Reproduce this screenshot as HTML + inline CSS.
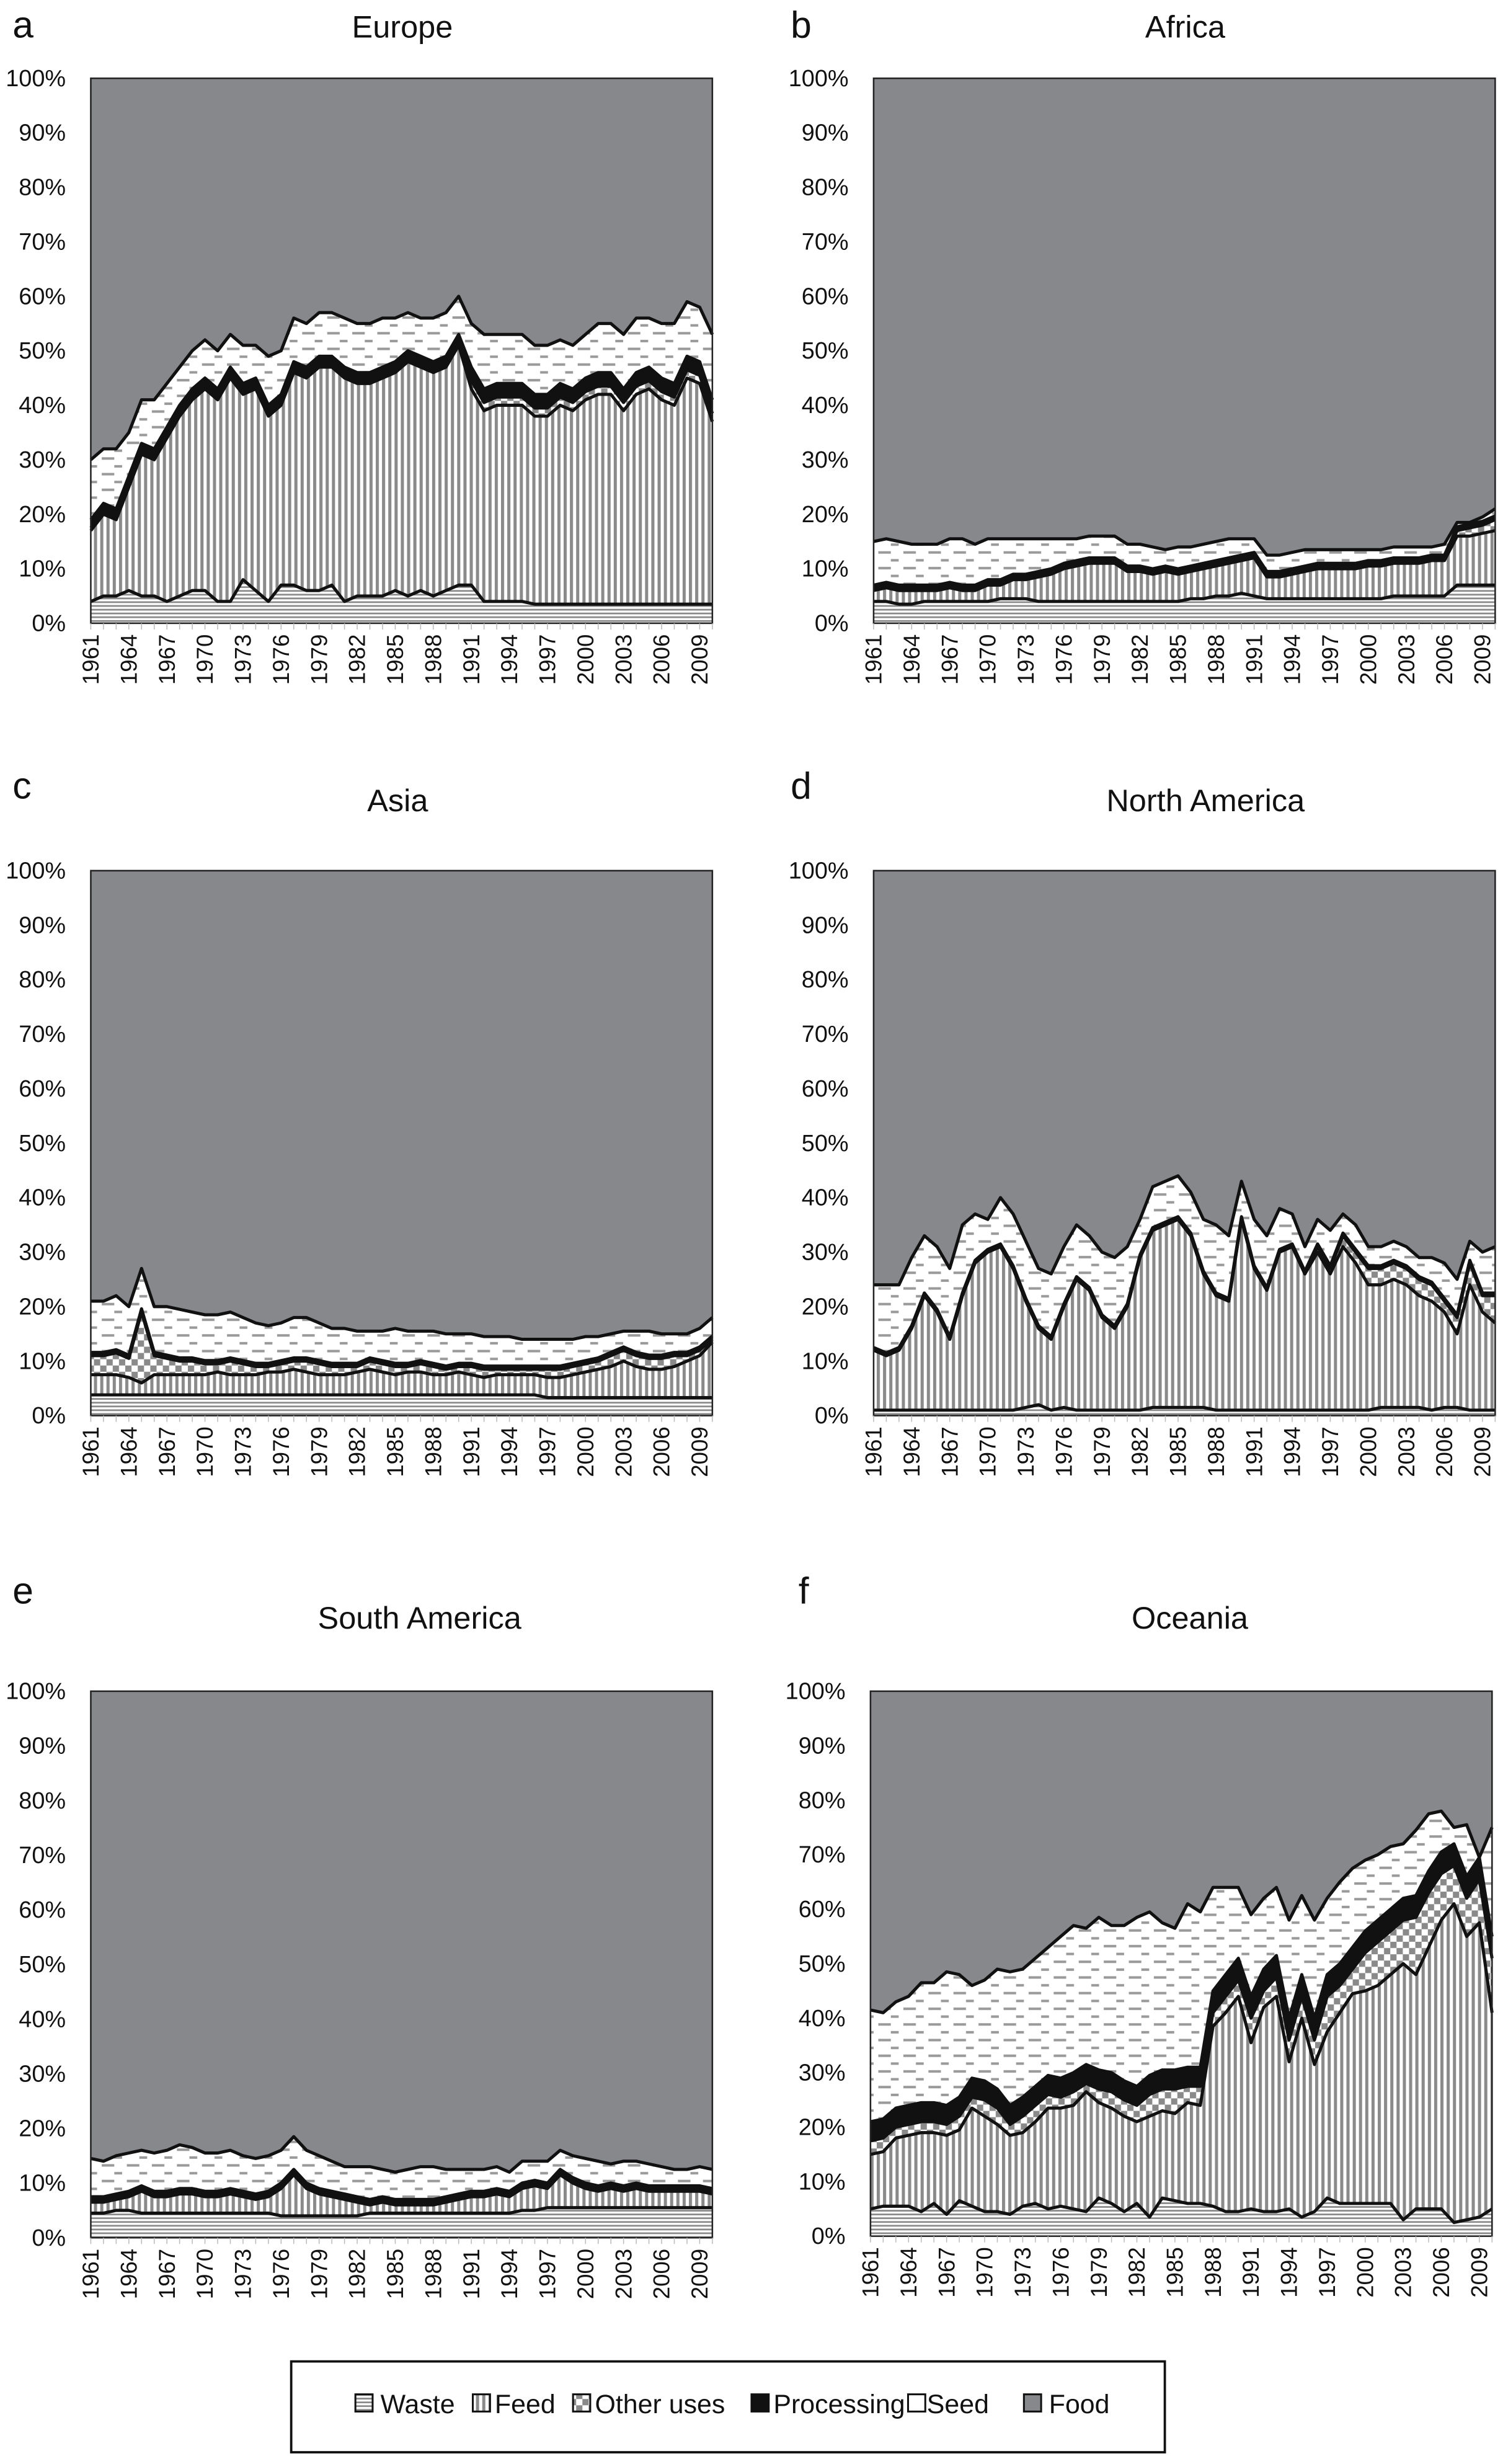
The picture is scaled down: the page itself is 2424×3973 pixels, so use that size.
<!DOCTYPE html>
<html><head><meta charset="utf-8"><style>
html,body{margin:0;padding:0;background:#fff;}
svg{display:block;}
text{font-family:"Liberation Sans",sans-serif;fill:#111;}
</style></head><body>
<svg id="fig" width="2424" height="3973" viewBox="0 0 960 1573.5" preserveAspectRatio="none" xmlns="http://www.w3.org/2000/svg">
<defs>
<pattern id="pWaste" patternUnits="userSpaceOnUse" width="6" height="2.4"><rect width="6" height="2.4" fill="#fff"/><rect y="0" width="6" height="1.1" fill="#8a8a8a"/></pattern>
<pattern id="pFeed" patternUnits="userSpaceOnUse" width="4" height="6"><rect width="4" height="6" fill="#fff"/><rect x="0" width="2" height="6" fill="#8a8a8a"/></pattern>
<pattern id="pOther" patternUnits="userSpaceOnUse" width="8" height="8"><rect width="8" height="8" fill="#fff"/><rect width="4" height="4" fill="#8a8a8a"/><rect x="4" y="4" width="4" height="4" fill="#8a8a8a"/></pattern>
<pattern id="pSeed" patternUnits="userSpaceOnUse" width="16" height="10"><rect width="16" height="10" fill="#fff"/><rect x="1" y="2" width="8" height="1.6" fill="#9a9a9a"/><rect x="9" y="7" width="5" height="1.6" fill="#9a9a9a"/></pattern>
</defs>
</svg>
<script>
const years = [];
for (let y = 1961; y <= 2010; y++) years.push(y);
const yTicks = [0,10,20,30,40,50,60,70,80,90,100];
const xTickYears = [1961,1964,1967,1970,1973,1976,1979,1982,1985,1988,1991,1994,1997,2000,2003,2006,2009];

// Europe
const eu_waste = [4,5,5,6,5,5,4,5,6,6,4,4,8,6,4,7,7,6,6,7,4,5,5,5,6,5,6,5,6,7,7,4,4,4,4,3.5,3.5,3.5,3.5,3.5,3.5,3.5,3.5,3.5,3.5,3.5,3.5,3.5,3.5,3.5];
const eu_feedCum = [17,20,19,25,31,30,34,38,41,43,41,45,42,43,38,40,46,45,47,47,45,44,44,45,46,48,47,46,47,51,43,39,40,40,40,38,38,40,39,41,42,42,39,42,43,41,40,45,44,37];
const eu_other = [0.5,0.5,0.5,0.5,0.5,0.5,0.5,0.5,0.5,0.5,0.5,0.5,0.5,0.5,0.5,0.5,0.5,0.5,0.5,0.5,0.5,0.5,0.5,0.5,0.5,0.5,0.5,0.5,0.5,0.5,1.5,1.5,1.5,1.5,1.5,1.5,1.5,1.5,1.5,1.5,1.5,1.5,1.5,1.5,1.5,1.5,1.5,1.5,1.5,1.5];
const eu_proc = [1.5,1.5,1.5,1.5,1.5,1.5,1.5,1.5,1.5,1.5,1.5,1.5,1.5,1.5,1.5,1.5,1.5,1.5,1.5,1.5,1.5,1.5,1.5,1.5,1.5,1.5,1.5,1.5,1.5,1.5,2.5,2.5,2.5,2.5,2.5,2.5,2.5,2.5,2.5,2.5,2.5,2.5,2.5,2.5,2.5,2.5,2.5,2.5,2.5,2.5];
const eu_seedCum = [30,32,32,35,41,41,44,47,50,52,50,53,51,51,49,50,56,55,57,57,56,55,55,56,56,57,56,56,57,60,55,53,53,53,53,51,51,52,51,53,55,55,53,56,56,55,55,59,58,53];

// Africa
const af_waste = [4,4,3.5,3.5,4,4,4,4,4,4,4.5,4.5,4.5,4,4,4,4,4,4,4,4,4,4,4,4,4.5,4.5,5,5,5.5,5,4.5,4.5,4.5,4.5,4.5,4.5,4.5,4.5,4.5,4.5,5,5,5,5,5,7,7,7,7];
const af_feedCum = [6,6.5,6,6,6,6,6.5,6,6,7,7,8,8,8.5,9,10,10.5,11,11,11,9.5,9.5,9,9.5,9,9.5,10,10.5,11,11.5,12,8.5,8.5,9,9.5,10,10,10,10,10.5,10.5,11,11,11,11.5,11.5,16,16,16.5,17];
const af_other = [0.3,0.3,0.3,0.3,0.3,0.3,0.3,0.3,0.3,0.3,0.3,0.3,0.3,0.3,0.3,0.3,0.3,0.3,0.3,0.3,0.3,0.3,0.3,0.3,0.3,0.3,0.3,0.3,0.3,0.3,0.3,0.3,0.3,0.3,0.3,0.3,0.3,0.3,0.3,0.3,0.3,0.3,0.3,0.3,0.3,0.3,1,1.5,1.5,2];
const af_proc = [0.7,0.7,0.7,0.7,0.7,0.7,0.7,0.7,0.7,0.7,0.7,0.7,0.7,0.7,0.7,0.7,0.7,0.7,0.7,0.7,0.7,0.7,0.7,0.7,0.7,0.7,0.7,0.7,0.7,0.7,0.7,0.7,0.7,0.7,0.7,0.7,0.7,0.7,0.7,0.7,0.7,0.7,0.7,0.7,0.7,0.7,0.7,0.7,0.7,0.7];
const af_seedCum = [15,15.5,15,14.5,14.5,14.5,15.5,15.5,14.5,15.5,15.5,15.5,15.5,15.5,15.5,15.5,15.5,16,16,16,14.5,14.5,14,13.5,14,14,14.5,15,15.5,15.5,15.5,12.5,12.5,13,13.5,13.5,13.5,13.5,13.5,13.5,13.5,14,14,14,14,14.5,18.5,18.5,19.5,21];

// Asia
const as_waste = [3.8,3.8,3.8,3.8,3.8,3.8,3.8,3.8,3.8,3.8,3.8,3.8,3.8,3.8,3.8,3.8,3.8,3.8,3.8,3.8,3.8,3.8,3.8,3.8,3.8,3.8,3.8,3.8,3.8,3.8,3.8,3.8,3.8,3.8,3.8,3.8,3.3,3.3,3.3,3.3,3.3,3.3,3.3,3.3,3.3,3.3,3.3,3.3,3.3,3.3];
const as_feedCum = [7.5,7.5,7.5,7,6,7.5,7.5,7.5,7.5,7.5,8,7.5,7.5,7.5,8,8,8.5,8,7.5,7.5,7.5,8,8.5,8,7.5,8,8,7.5,7.5,8,7.5,7,7.5,7.5,7.5,7.5,7,7,7.5,8,8.5,9,10,9,8.5,8.5,9,10,11,13.5];
const as_other = [3.5,3.5,4,3.5,13,3.5,3,2.5,2.5,2,1.5,2.5,2,1.5,1,1.5,1.5,2,2,1.5,1.5,1,1.5,1.5,1.5,1,1.5,1.5,1,1,1.5,1.5,1,1,1,1,1.5,1.5,1.5,1.5,1.5,2,2,2,2,2,2,1,1,0.5];
const as_proc = [0.6,0.6,0.6,0.6,0.6,0.6,0.6,0.6,0.6,0.6,0.6,0.6,0.6,0.6,0.6,0.6,0.6,0.6,0.6,0.6,0.6,0.6,0.6,0.6,0.6,0.6,0.6,0.6,0.6,0.6,0.6,0.6,0.6,0.6,0.6,0.6,0.6,0.6,0.6,0.6,0.6,0.6,0.6,0.6,0.6,0.6,0.6,0.6,0.6,0.6];
const as_seedCum = [21,21,22,20,27,20,20,19.5,19,18.5,18.5,19,18,17,16.5,17,18,18,17,16,16,15.5,15.5,15.5,16,15.5,15.5,15.5,15,15,15,14.5,14.5,14.5,14,14,14,14,14,14.5,14.5,15,15.5,15.5,15.5,15,15,15,16,18];

// North America
const na_waste = [1,1,1,1,1,1,1,1,1,1,1,1,1.5,2,1,1.5,1,1,1,1,1,1,1.5,1.5,1.5,1.5,1.5,1,1,1,1,1,1,1,1,1,1,1,1,1,1.5,1.5,1.5,1.5,1,1.5,1.5,1,1,1];
const na_feedCum = [12,11,12,16,22,19,14,22,28,30,31,27,21,16,14,20,25,23,18,16,20,29,34,35,36,33,26,22,21,36,27,23,30,31,26,30,26,31,28,24,24,25,24,22,21,19,15,24,19,17];
const na_other = [0,0,0,0,0,0,0,0,0,0,0,0,0,0,0,0,0,0,0,0,0,0,0,0,0,0,0,0,0,0,0,0,0,0,0,1,1,2,2,3,3,3,3,3,3,2,3,4,3,5];
const na_proc = [0.5,0.5,0.5,0.5,0.5,0.5,0.5,0.5,0.5,0.5,0.5,0.5,0.5,0.5,0.5,0.5,0.5,0.5,0.5,0.5,0.5,0.5,0.5,0.5,0.5,0.5,0.5,0.5,0.5,0.5,0.5,0.5,0.5,0.5,0.5,0.5,0.5,0.5,0.5,0.5,0.5,0.5,0.5,0.5,0.5,0.5,0.5,0.5,0.5,0.5];
const na_seedCum = [24,24,24,29,33,31,27,35,37,36,40,37,32,27,26,31,35,33,30,29,31,36,42,43,44,41,36,35,33,43,36,33,38,37,31,36,34,37,35,31,31,32,31,29,29,28,25,32,30,31];

// South America
const sa_waste = [4.5,4.5,5,5,4.5,4.5,4.5,4.5,4.5,4.5,4.5,4.5,4.5,4.5,4.5,4,4,4,4,4,4,4,4.5,4.5,4.5,4.5,4.5,4.5,4.5,4.5,4.5,4.5,4.5,4.5,5,5,5.5,5.5,5.5,5.5,5.5,5.5,5.5,5.5,5.5,5.5,5.5,5.5,5.5,5.5];
const sa_feedCum = [6.5,6.5,7,7.5,8.5,7.5,7.5,8,8,7.5,7.5,8,7.5,7,7.5,9,11.5,9,8,7.5,7,6.5,6,6.5,6,6,6,6,6.5,7,7.5,7.5,8,7.5,9,9.5,9,11.5,10,9,8.5,9,8.5,9,8.5,8.5,8.5,8.5,8.5,8];
const sa_other = [0.2,0.2,0.2,0.2,0.2,0.2,0.2,0.2,0.2,0.2,0.2,0.2,0.2,0.2,0.2,0.2,0.2,0.2,0.2,0.2,0.2,0.2,0.2,0.2,0.2,0.2,0.2,0.2,0.2,0.2,0.2,0.2,0.2,0.2,0.2,0.2,0.2,0.2,0.2,0.2,0.2,0.2,0.2,0.2,0.2,0.2,0.2,0.2,0.2,0.2];
const sa_proc = [0.8,0.8,0.8,0.8,0.8,0.8,0.8,0.8,0.8,0.8,0.8,0.8,0.8,0.8,0.8,0.8,0.8,0.8,0.8,0.8,0.8,0.8,0.8,0.8,0.8,0.8,0.8,0.8,0.8,0.8,0.8,0.8,0.8,0.8,0.8,0.8,0.8,0.8,0.8,0.8,0.8,0.8,0.8,0.8,0.8,0.8,0.8,0.8,0.8,0.8];
const sa_seedCum = [14.5,14,15,15.5,16,15.5,16,17,16.5,15.5,15.5,16,15,14.5,15,16,18.5,16,15,14,13,13,13,12.5,12,12.5,13,13,12.5,12.5,12.5,12.5,13,12,14,14,14,16,15,14.5,14,13.5,14,14,13.5,13,12.5,12.5,13,12.5];

// Oceania
const oc_waste = [5,5.5,5.5,5.5,4.5,6,4,6.5,5.5,4.5,4.5,4,5.5,6,5,5.5,5,4.5,7,6,4.5,6,3.5,7,6.5,6,6,5.5,4.5,4.5,5,4.5,4.5,5,3.5,4.5,7,6,6,6,6,6,3,5,5,5,2.5,3,3.5,5];
const oc_feedCum = [15,15.5,18,18.5,19,19,18.5,19.5,23.5,22,20.5,18.5,19,21,23.5,23.5,24,26.5,24.5,23.5,22,21,22,23,22.5,24.5,24,38.5,41,44,35.5,42,44,32,40,31.5,37.5,41,44.5,45,46,48,50,48,53,58,61,55,57.5,41];
const oc_other = [2.5,2.5,2,2,2,2,2,2.5,2,3,3,2,3,3,2.5,2,2.5,1.5,2.5,3,3,3,4,4,4.5,3,3.5,2.5,3,3,4.5,3,3.5,4,4,4.5,6.5,5,4.5,7,8,8,8,10.5,10,8.5,7,7,8,10];
const oc_proc = [3.5,3.5,3.5,3.5,3.5,3.5,3.5,3.5,3.5,3.5,3.5,3.5,3.5,3.5,3.5,3.5,3.5,3.5,3.5,3.5,3.5,3.5,3.5,3.5,3.5,3.5,3.5,4,4,4,4,4,4,4,4,4,4,4,4,4,4,4,4,4,4,4,4,4,4,4];
const oc_seedCum = [41.5,41,43,44,46.5,46.5,48.5,48,46,47,49,48.5,49,51,53,55,57,56.5,58.5,57,57,58.5,59.5,57.5,56.5,61,59.5,64,64,64,59,62,64,58,62.5,58,62,65,67.5,69,70,71.5,72,74.5,77.5,78,75,75.5,67,75];

const panels = [
 {key:'europe', letter:'a', title:'Europe', px:58, py:50, w:397, h:348, lx:8, ly:24, tx:257, ty:24, d:[eu_waste,eu_feedCum,eu_other,eu_proc,eu_seedCum]},
 {key:'africa', letter:'b', title:'Africa', px:558, py:50, w:397, h:348, lx:505, ly:24, tx:757, ty:24, d:[af_waste,af_feedCum,af_other,af_proc,af_seedCum]},
 {key:'asia', letter:'c', title:'Asia', px:58, py:556, w:397, h:348, lx:8, ly:510, tx:254, ty:518, d:[as_waste,as_feedCum,as_other,as_proc,as_seedCum]},
 {key:'north-america', letter:'d', title:'North America', px:558, py:556, w:397, h:348, lx:505, ly:510, tx:770, ty:518, d:[na_waste,na_feedCum,na_other,na_proc,na_seedCum]},
 {key:'south-america', letter:'e', title:'South America', px:58, py:1080, w:397, h:349, lx:8, ly:1024, tx:268, ty:1040, d:[sa_waste,sa_feedCum,sa_other,sa_proc,sa_seedCum]},
 {key:'oceania', letter:'f', title:'Oceania', px:556, py:1080, w:397, h:348, lx:510, ly:1024, tx:760, ty:1040, d:[oc_waste,oc_feedCum,oc_other,oc_proc,oc_seedCum]}
];

const NS = 'http://www.w3.org/2000/svg';
const svg = document.getElementById('fig');
function mk(tag, attrs, parent){
  const e = document.createElementNS(NS, tag);
  for (const k in attrs) e.setAttribute(k, attrs[k]);
  (parent||svg).appendChild(e);
  return e;
}

panels.forEach(p => {
  const g = mk('g', {});
  
  
  const xs = i => p.px + (i/(years.length-1))*p.w;
  const ys = v => p.py + p.h - (v/100)*p.h;

  const [waste, feedCum, other, proc, seedCum] = p.d;
  const b0 = years.map(() => 0);
  const b1 = waste.slice();
  const b2 = feedCum.map((v,i) => Math.max(v, b1[i]));
  const b3 = b2.map((v,i) => v + other[i]);
  const b4 = b3.map((v,i) => v + proc[i]);
  const b5 = seedCum.map((v,i) => Math.max(v, b4[i]));
  const b6 = years.map(() => 100);

  const layers = [
    ['waste', b0, b1, 'url(#pWaste)'],
    ['feed', b1, b2, 'url(#pFeed)'],
    ['other-uses', b2, b3, 'url(#pOther)'],
    ['processing', b3, b4, '#111'],
    ['seed', b4, b5, 'url(#pSeed)'],
    ['food', b5, b6, '#87888c']
  ];
  layers.forEach(([nm, lo, hi, fill]) => {
    let d = 'M' + xs(0) + ',' + ys(hi[0]);
    for (let i = 1; i < years.length; i++) d += 'L' + xs(i) + ',' + ys(hi[i]);
    for (let i = years.length-1; i >= 0; i--) d += 'L' + xs(i) + ',' + ys(lo[i]);
    d += 'Z';
    const a = mk('path', {d:d, fill:fill, stroke:'none'}, g);
    
    
  });
  [b1, b2, b3, b4, b5].forEach((arr, k) => {
    let d = '';
    arr.forEach((v,i) => { d += (i ? 'L' : 'M') + xs(i) + ',' + ys(v); });
    const l = mk('path', {d:d, fill:'none', stroke:'#111', 'stroke-width':2, 'stroke-linejoin':'round'}, g);
    
    
  });
  const fr = mk('rect', {x:p.px, y:p.py, width:p.w, height:p.h, fill:'none', stroke:'#222', 'stroke-width':1}, g);
  
  

  yTicks.forEach(t => {
    const tt = mk('text', {x:p.px-16, y:ys(t)+5, 'text-anchor':'end', 'font-size':15}, g);
    tt.textContent = t + '%';
    
    
  });
  years.forEach((yr,i) => {
    const tk = mk('line', {x1:xs(i), x2:xs(i), y1:p.py+p.h, y2:p.py+p.h+4, stroke:'#bbb', 'stroke-width':0.6}, g);
    
    
  });
  xTickYears.forEach(yr => {
    const i = years.indexOf(yr);
    const x = xs(i) + 5, y = p.py + p.h + 7;
    const tt = mk('text', {x:x, y:y, 'text-anchor':'end', 'font-size':14.5, transform:'rotate(-90 '+x+' '+y+')'}, g);
    tt.textContent = yr;
    
    
  });
  const lt = mk('text', {x:p.lx, y:p.ly, 'font-size':24}, g);
  lt.textContent = p.letter;
  
  
  const ti = mk('text', {x:p.tx, y:p.ty, 'text-anchor':'middle', 'font-size':20}, g);
  ti.textContent = p.title;
  
  
});

// legend
const lg = mk('g', {});


const lbox = mk('rect', {x:186, y:1508, width:558, height:58, fill:'#fff', stroke:'#111', 'stroke-width':1.5}, lg);


const legendItems = [
  ['Waste', 'url(#pWaste)', 227, 243],
  ['Feed', 'url(#pFeed)', 302, 316],
  ['Other uses', 'url(#pOther)', 366, 380],
  ['Processing', '#111', 480, 494],
  ['Seed', '#fff', 580, 592],
  ['Food', '#87888c', 654, 670]
];
legendItems.forEach(([name, fill, ix, tx]) => {
  const sw = mk('rect', {x:ix, y:1529, width:11, height:11, fill:fill, stroke:'#111', 'stroke-width':1.2}, lg);
  
  
  const t = mk('text', {x:tx, y:1541, 'font-size':17}, lg);
  t.textContent = name;
  
  
});
</script>
</body></html>
